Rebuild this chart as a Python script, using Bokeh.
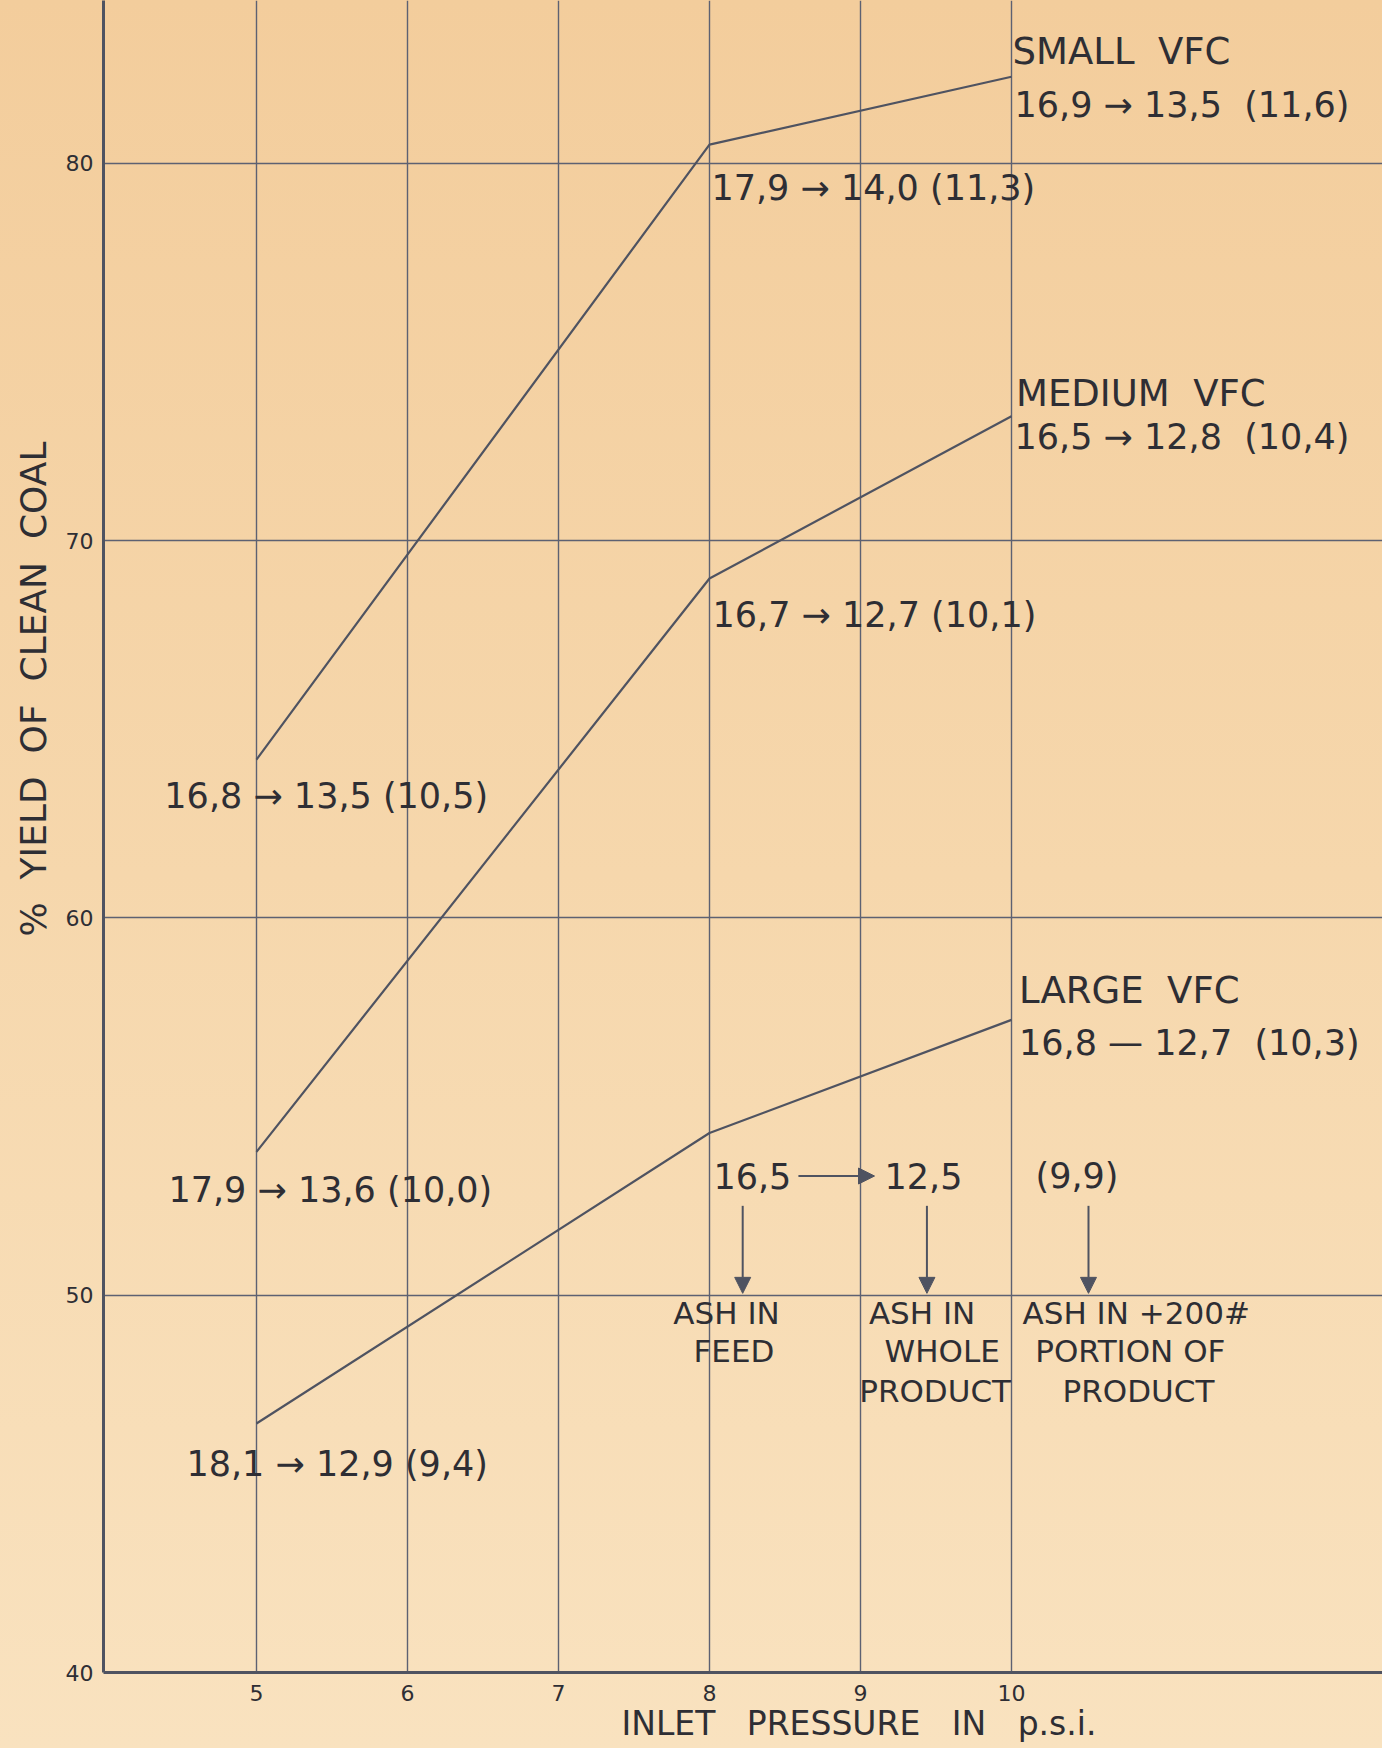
from bokeh.plotting import figure
from bokeh.models import Range1d, FixedTicker, Title, Arrow, NormalHead, ColumnDataSource
from bokeh.core.properties import value
from bokeh.embed import file_html
from bokeh.resources import INLINE

NB = "\u00a0"

# ---------------- data ----------------
pressure = [5, 8, 10]                    # inlet pressure, p.s.i.
small_vfc = [64.2, 80.5, 82.3]           # % yield of clean coal
medium_vfc = [53.8, 69.0, 73.3]
large_vfc = [46.6, 54.3, 57.3]

x_ticks = [5, 6, 7, 8, 9, 10]
y_ticks = [40, 50, 60, 70, 80]

# series names (placed at the right-hand end of each curve)
name_text = ["SMALL" + NB + " VFC", "MEDIUM" + NB + " VFC", "LARGE" + NB + " VFC"]
name_x = [10.007, 10.03, 10.05]
name_y = [82.96, 73.91, 58.07]

# ash values: feed -> whole product (+200# portion of product)
ash_text = ["16,9 \u2192 13,5" + NB + " (11,6)", "17,9 \u2192 14,0 (11,3)",
            "16,5 \u2192 12,8" + NB + " (10,4)", "16,7 \u2192 12,7 (10,1)",
            "16,8 \u2192 13,5 (10,5)", "16,8 \u2014 12,7" + NB + " (10,3)",
            "17,9 \u2192 13,6 (10,0)", "18,1 \u2192 12,9 (9,4)",
            "16,5", "12,5", "(9,9)"]
ash_x = [10.02, 8.013, 10.02, 8.02, 4.39, 10.05, 4.417, 4.536, 8.026, 9.159, 10.159]
ash_y = [81.56, 79.34, 72.76, 68.02, 63.24, 56.68, 52.78, 45.54, 53.16, 53.16, 53.16]

# key legend lines
key_text = ["ASH IN", "FEED", "ASH IN", "WHOLE", "PRODUCT",
            "ASH IN +200#", "PORTION OF", "PRODUCT"]
key_x = [8.113, 8.162, 9.408, 9.541, 9.494, 10.826, 10.787, 10.841]
key_y = [49.54, 48.52, 49.54, 48.52, 47.465, 49.54, 48.52, 47.465]

# key arrows
arr_x0 = [8.589, 8.22, 9.44, 10.51]
arr_x1 = [9.093, 8.22, 9.44, 10.51]
arr_y0 = [53.16, 52.37, 52.37, 52.37]
arr_y1 = [53.16, 50.05, 50.05, 50.05]

gap = " " + NB + NB
x_label = "INLET" + gap + "PRESSURE" + gap + "IN" + gap + "p.s.i."
y_label = "%" + NB + " YIELD" + NB + " OF" + NB + " CLEAN" + NB + " COAL"

# ---------------- style ----------------
INK = "#2E2E34"
LINE = "#4F5361"
GRID = "#5D6172"
FONT = "DejaVu Sans"

p = figure(width=1382, height=1748, title=None,
           x_range=Range1d(3.987, 12.457), y_range=Range1d(40.0, 84.32),
           output_backend="svg", toolbar_location=None,
           min_border_left=103, min_border_right=0, min_border_top=0,
           min_border_bottom=76,
           background_fill_color=None, border_fill_color=None,
           outline_line_color=None)
p.styles = {"background-image":
            "linear-gradient(to bottom, #F3CD9C 0%, #F6D7AC 50%, #F9E2BF 100%)"}

for ax, tk in ((p.xaxis, x_ticks), (p.yaxis, y_ticks)):
    ax.ticker = FixedTicker(ticks=tk)
    ax.major_tick_line_color = None
    ax.minor_tick_line_color = None
    ax.major_tick_out = 0
    ax.major_tick_in = 0
    ax.minor_tick_out = 0
    ax.axis_line_color = LINE
    ax.axis_line_width = 3
    ax.major_label_text_font = FONT
    ax.major_label_text_font_size = "22px"
    ax.major_label_text_color = INK
    ax.major_label_standoff = 10
p.xaxis.major_label_standoff = 12

p.xgrid.ticker = FixedTicker(ticks=x_ticks)
p.ygrid.ticker = FixedTicker(ticks=y_ticks)
for g in (p.xgrid, p.ygrid):
    g.grid_line_color = GRID
    g.grid_line_width = 1.4

p.add_layout(Title(text=x_label, align="left", offset=518, vertical_align="bottom",
                   text_font=FONT, text_font_size="33px", text_font_style="normal",
                   text_color=INK, standoff=-4), "below")
p.add_layout(Title(text=y_label, align="left", offset=736,
                   text_font=FONT, text_font_size="36px", text_font_style="normal",
                   text_color=INK, standoff=18), "left")

for ys in (small_vfc, medium_vfc, large_vfc):
    p.line(pressure, ys, line_color=LINE, line_width=2.2)

p.text(x=name_x, y=name_y, text=name_text, text_font=value(FONT),
       text_font_size=value("37px"), text_align="left", text_baseline="middle",
       text_color=INK)
p.text(x=ash_x, y=ash_y, text=ash_text, text_font=value(FONT),
       text_font_size=value("35px"), text_align="left", text_baseline="middle",
       text_color=INK)
p.text(x=key_x, y=key_y, text=key_text, text_font=value(FONT),
       text_font_size=value("31px"), text_align="center", text_baseline="middle",
       text_color=INK)

arr_src = ColumnDataSource(dict(x0=arr_x0, x1=arr_x1, y0=arr_y0, y1=arr_y1))
p.add_layout(Arrow(end=NormalHead(size=16, fill_color=LINE, line_color=LINE),
                   x_start="x0", y_start="y0", x_end="x1", y_end="y1",
                   source=arr_src, line_color=LINE, line_width=2))

open("out.html", "w").write(file_html(p, INLINE))
